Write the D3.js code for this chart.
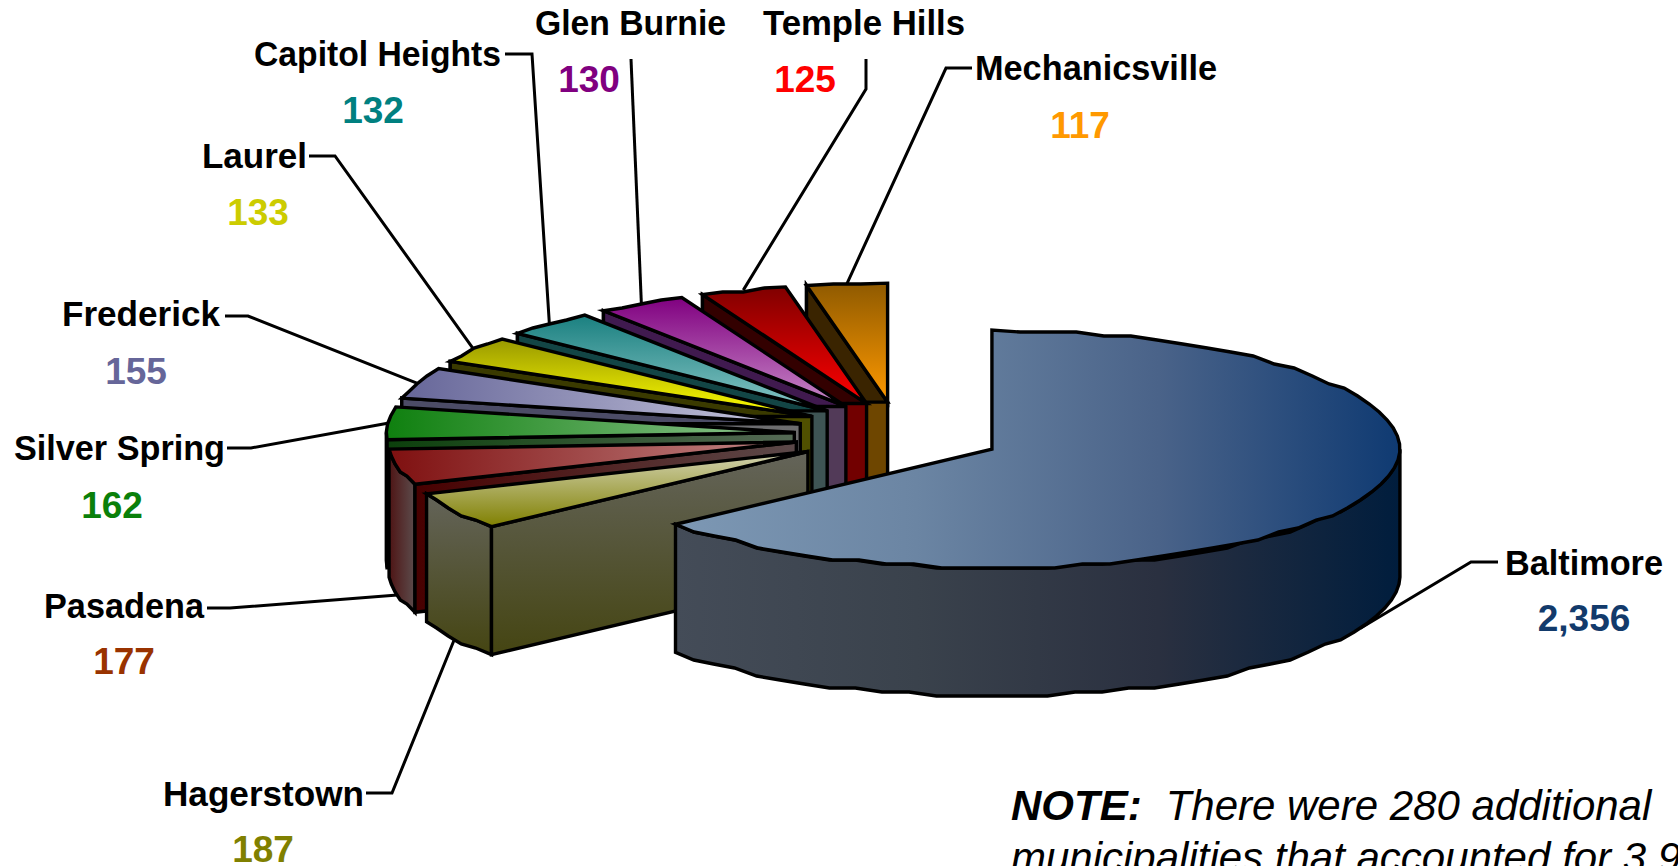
<!DOCTYPE html>
<html>
<head>
<meta charset="utf-8">
<script src="https://cdn.jsdelivr.net/npm/d3@7/dist/d3.min.js"></script>
<style>
html,body{margin:0;padding:0;background:#fff;overflow:hidden}
svg{display:block}
text{font-family:"Liberation Sans",Arial,sans-serif}
</style>
</head>
<body>
<svg id="chart" width="1678" height="866"></svg>
<script>
// ---- data ----
const categories = ["Baltimore","Hagerstown","Pasadena","Silver Spring","Frederick","Laurel","Capitol Heights","Glen Burnie","Temple Hills","Mechanicsville"];
const values = [2356,187,177,162,155,133,132,130,125,117];
const valueColors = ["#123a6b","#808000","#993300","#0a800a","#666699","#cccc00","#008080","#800080","#ff0000","#ff9900"];

// ---- top-face gradients: [direction, start colour, end colour] ----
const faceFills = [
  ["h",["#7d98b4","#6b85a3","#4a6389","#0f3a72"]],
  ["v",["#d4d4b4","#808000"]],
  ["h",["#7f1010","#c58a8a"]],
  ["h",["#0f800f","#93c693"]],
  ["h",["#666699","#c9c9de"]],
  ["v",["#999900","#ffff00"]],
  ["v",["#1a8080","#88c6c6"]],
  ["v",["#800080","#c88ac8"]],
  ["v",["#800000","#ff0000"]],
  ["v",["#8f5a00","#ff9900"]]
];
// ---- wall shades ----
const wallUpper = [null,null,null,null,"#4c4c66","#3a3a00","#134545","#401a4f","#330000","#3a2400"];
const wallLower = [["h",["#444c58","#3a424c","#2a3040","#001d3d"]],["v",["#64645a","#454512"]],["h",["#480000","#5c4a4a"]],["h",["#0c400c","#556a55"]],["h",["#666680","#6e6e6e"]],["v",["#505000","#505000"]],["v",["#3e5454","#3e5454"]],["v",["#523a58","#523a58"]],["v",["#720000","#720000"]],["v",["#6e4600","#6e4600"]]];

// ---- label layout ----
const labelLeft   = [1505,163,44,14,62,202,254,535,763,975];
const labelRight  = [1663,364,204,225,220,307,501,726,965,1217];
const labelBase   = [575,806,618,460,326,168,66,35,35,80];
const valueCentre = [1584,263,124,112,136,258,373,589,805,1080];
const valueBase   = [631,862,674,518,384,225,123,92,92,138];
const leaderStart = [[1498,562],[366,793],[207,608],[227,448],[225,316],[309,156],[505,54],[631,59],[866,59],[972,68]];
const leaderElbow = [[1471,562],[392,793],[230,608],[251,448],[248,316],[335,156],[532,54],null,[866,89],[946,68]];

// ---- projection of the tilted pie ----
const cx = 898, cy = 435, rx = 408, ry = 119, depth = 128, explodeX = 104, explodeY = 33;
const SNAP = 4, STEP = 4 * Math.PI / 180;

const svg = d3.select("#chart");
const defs = svg.append("defs");
const pie = d3.pie().sort(null).value(d => d).startAngle(0).endAngle(2 * Math.PI);
const arcs = pie(values);
const format = d3.format(",");

function gradient(id, spec, box) {
  const g = defs.append("linearGradient").attr("id", id);
  if (box) g.attr("gradientUnits","userSpaceOnUse").attr("x1",box[0]).attr("x2",box[2]).attr("y1",box[1]).attr("y2",box[3]);
  else g.attr("x1",0).attr("y1",0).attr("x2",spec[0]==="h"?1:0).attr("y2",spec[0]==="v"?1:0);
  const cols = spec[1];
  const pos = d3.scaleLinear().domain([0,cols.length-1]).range([0,100]);
  cols.forEach((c,i)=>g.append("stop").attr("offset",pos(i)+"%").attr("stop-color",c));
  return `url(#${id})`;
}

arcs.forEach(a => {
  a.mid = (a.startAngle + a.endAngle) / 2;
  a.ax = cx + Math.sin(a.mid) * explodeX;
  a.ay = cy - Math.cos(a.mid) * explodeY;
});
const rim = (a, t) => [a.ax + Math.sin(t) * rx, a.ay - Math.cos(t) * ry];
function rimPoints(a, t0, t1) {
  const n = Math.max(1, Math.ceil((t1 - t0) / STEP));
  const ts = d3.range(n + 1).map(i => t0 + (t1 - t0) * i / n);
  return ts.map((t, i) => {
    const p = rim(a, t);
    if (i === 0 || i === n) return p;
    return [p[0], Math.round(p[1] / SNAP) * SNAP];
  });
}
const line = d3.line();
const closed = pts => line(pts) + "Z";
const down = p => [p[0], p[1] + depth];

// leaders go behind the pie
arcs.forEach((a, i) => {
  const p = rim(a, a.mid);
  const frontFacing = Math.cos(a.mid) < 0;
  const end = frontFacing ? down(p) : p;
  const pts = [leaderStart[i]];
  if (leaderElbow[i]) pts.push(leaderElbow[i]);
  pts.push(end);
  svg.append("path").attr("d", line(pts)).attr("fill","none").attr("stroke","#000").attr("stroke-width",3);
});

const stroke = 3.4;
function poly(pts, fill) {
  return svg.append("path").attr("d", closed(pts)).attr("fill", fill)
    .attr("stroke","#000").attr("stroke-width",stroke).attr("stroke-linejoin","miter");
}

// small slices back to front, the big one last
const order = d3.range(1, arcs.length).reverse().concat([0]);
order.forEach(i => {
  const a = arcs[i];
  const S = rim(a, a.startAngle), A = [a.ax, a.ay];
  const xs = rimPoints(a, a.startAngle, a.endAngle);
  const minX = d3.min(xs, p => p[0]);

  // outer wall
  const wLo = Math.max(a.startAngle, Math.PI / 2), wHi = Math.min(a.endAngle, 1.5 * Math.PI);
  if (wLo < wHi) {
    const top = rimPoints(a, wLo, wHi);
    const box = i === 0 ? [minX, 0, a.ax + rx, 0] : null;
    const spec = i === 2 ? ["h",["#4e1414","#5c4c4c"]] : wallLower[i];
    const fill = gradient(`wall${i}`, spec, box);
    poly(top.concat(top.map(down).reverse()), fill);
  }
  // straight wall at the slice's start edge
  if (i !== 0) {
    const lowFill = gradient(`side${i}`, wallLower[i]);
    poly([S, A, down(A), down(S)], lowFill);
    if (S[1] < A[1]) {
      const g = gradient(`upper${i}`, ["v",[wallUpper[i], wallUpper[i]]]);
      poly([S, A, [S[0], A[1]]], g);
    }
  }
  // top face
  const face = i === 0
    ? gradient(`face${i}`, faceFills[i], [minX, 0, a.ax + rx, 0])
    : gradient(`face${i}`, faceFills[i]);
  poly([A].concat(xs), face);
});

// text
categories.forEach((c, i) => {
  svg.append("text").attr("x", labelLeft[i]).attr("y", labelBase[i])
    .attr("font-size", 35).attr("font-weight","bold").attr("fill","#000")
    .attr("textLength", labelRight[i] - labelLeft[i]).attr("lengthAdjust","spacingAndGlyphs").text(c);
  svg.append("text").attr("x", valueCentre[i]).attr("y", valueBase[i])
    .attr("text-anchor","middle").attr("font-size", 37).attr("font-weight","bold")
    .attr("fill", valueColors[i]).text(format(values[i]));
});

const note = svg.append("text").attr("x",1011).attr("y",820).attr("font-size",42).attr("font-style","italic").attr("fill","#000");
note.append("tspan").attr("font-weight","bold").text("NOTE:");
note.append("tspan").attr("dx",24).text("There were 280 additional");
svg.append("text").attr("x",1011).attr("y",872).attr("font-size",42).attr("font-style","italic").attr("fill","#000")
  .text("municipalities that accounted for 3.9");
</script>
</body>
</html>
